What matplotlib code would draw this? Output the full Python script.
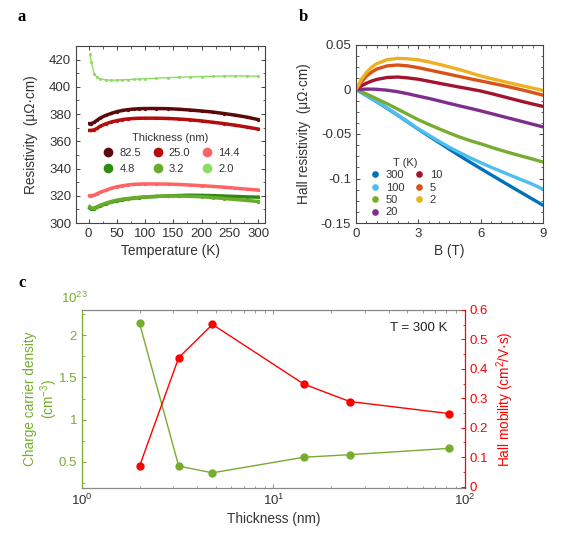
import matplotlib
matplotlib.use("Agg")
import matplotlib.pyplot as plt
from matplotlib.ticker import MultipleLocator, LogLocator, NullFormatter, FixedLocator
from matplotlib.lines import Line2D

plt.rcParams['font.family'] = ['Liberation Sans', 'DejaVu Sans']
plt.rcParams['mathtext.fontset'] = 'custom'
plt.rcParams['mathtext.rm'] = 'Liberation Sans'

# ---------------- Panel a data ----------------
temperature = [2, 5, 10, 15, 20, 30, 40, 50, 60, 70, 80, 90, 100, 120, 140, 160, 180, 200, 220, 240, 260, 280, 300]
rho_82_5 = [373, 373, 374, 375.5, 377, 379, 380.5, 381.8, 382.7, 383.3, 383.7, 384, 384.1, 384.1, 384, 383.6, 383, 382.3, 381.5, 380.4, 379.2, 377.8, 376]
rho_25_0 = [368, 368, 368.5, 369.5, 371, 372.8, 374.2, 375.2, 376, 376.5, 376.8, 377, 377, 377, 376.8, 376.4, 375.8, 375, 374, 373, 371.8, 370.5, 369]
rho_14_4 = [320, 320, 320.5, 321.5, 322.5, 324, 325.5, 326.6, 327.4, 328, 328.4, 328.6, 328.7, 328.7, 328.6, 328.3, 327.9, 327.4, 326.9, 326.3, 325.6, 324.9, 324.2]
rho_4_8 = [311, 310.3, 310.5, 311.5, 312.5, 314, 315.3, 316.3, 317.1, 317.7, 318.2, 318.6, 319, 319.5, 319.9, 320.2, 320.4, 320.3, 320.1, 319.8, 319.5, 319.2, 319]
rho_3_2 = [312, 311, 311, 312, 313, 314.5, 315.8, 316.8, 317.5, 318, 318.5, 318.9, 319.2, 319.6, 319.8, 319.8, 319.6, 319.3, 318.7, 318, 317.3, 316.6, 315.8]
rho_2_0 = [424, 418, 409.5, 407, 405.8, 405.2, 404.9, 405, 405.2, 405.4, 405.6, 405.8, 406, 406.4, 406.8, 407.1, 407.3, 407.6, 407.8, 408, 408, 408, 407.8]
thickness_labels_a = ['82.5', '25.0', '14.4', '4.8', '3.2', '2.0']
colors_a = ['#5a0a0a', '#b30d0d', '#ff6464', '#2e8b12', '#6aab2e', '#8ddc62']

# ---------------- Panel b data ----------------
field = [0, 0.25, 0.5, 0.75, 1, 1.5, 2, 2.5, 3, 3.5, 4, 4.5, 5, 5.5, 6, 6.5, 7, 7.5, 8, 8.5, 9]
hall_300 = [0, -0.0034, -0.0068, -0.0103, -0.0138, -0.0212, -0.0288, -0.0367, -0.0447, -0.0522, -0.0597, -0.0672, -0.0746, -0.0818, -0.0888, -0.0958, -0.1027, -0.1096, -0.1164, -0.1232, -0.130]
hall_100 = [0, -0.0033, -0.0066, -0.0100, -0.0135, -0.0208, -0.0284, -0.0363, -0.0442, -0.0513, -0.0583, -0.0650, -0.0710, -0.0768, -0.0822, -0.0873, -0.0922, -0.0970, -0.1017, -0.1065, -0.112]
hall_50 = [0, -0.0025, -0.005, -0.0078, -0.0105, -0.016, -0.022, -0.028, -0.034, -0.0392, -0.0442, -0.049, -0.0535, -0.0575, -0.061, -0.0648, -0.0684, -0.0718, -0.075, -0.0782, -0.0815]
hall_20 = [0, 0.0002, 0.0004, 0.0004, 0.0002, -0.0008, -0.0025, -0.0048, -0.0075, -0.010, -0.0128, -0.0157, -0.0185, -0.0212, -0.024, -0.027, -0.030, -0.033, -0.036, -0.039, -0.042]
hall_10 = [0, 0.004, 0.007, 0.0095, 0.0113, 0.0135, 0.014, 0.013, 0.0115, 0.0093, 0.007, 0.0048, 0.0026, 0.0005, -0.0017, -0.0045, -0.0075, -0.0105, -0.0135, -0.0163, -0.019]
hall_5 = [0, 0.008, 0.015, 0.0195, 0.023, 0.0265, 0.0275, 0.0265, 0.0245, 0.022, 0.0195, 0.017, 0.0145, 0.012, 0.0096, 0.0072, 0.0048, 0.0022, -0.0005, -0.0034, -0.0064]
hall_2 = [0, 0.011, 0.019, 0.025, 0.029, 0.0335, 0.035, 0.0345, 0.0333, 0.031, 0.0283, 0.0253, 0.0222, 0.0188, 0.0152, 0.0123, 0.0095, 0.0068, 0.0042, 0.0016, -0.001]
temp_labels_b = ['300', '100', '50', '20', '10', '5', '2']
colors_b = ['#0072BD', '#4DBEEE', '#77AC30', '#7E2F8E', '#A2142F', '#D95319', '#EDB120']

# ---------------- Panel c data ----------------
thickness_c = [2.0, 3.2, 4.8, 14.4, 25.0, 82.5]
carrier_density = [2.14, 0.45, 0.37, 0.555, 0.585, 0.66]   # x 1e23 cm^-3
hall_mobility = [0.070, 0.438, 0.551, 0.348, 0.289, 0.248]  # cm^2/V.s

green_c = '#77AC30'
red_c = '#FF0000'
spine_col = '#444444'

fig = plt.figure(figsize=(5.77, 5.33), dpi=100)

tick_fs = 9.5
label_fs = 9.8
leg_fs = 8.0

def style_box(ax):
    for s in ax.spines.values():
        s.set_color(spine_col)
        s.set_linewidth(0.8)
    ax.tick_params(which='both', direction='in', top=True, right=True, colors=spine_col,
                   labelcolor='#333333', labelsize=tick_fs)
    ax.tick_params(which='major', length=3, width=0.7)
    ax.tick_params(which='minor', length=1.8, width=0.6)

# ---------- a ----------
axa = fig.add_axes([0.132, 0.5816, 0.327, 0.332])
series_a = [rho_82_5, rho_25_0, rho_14_4, rho_4_8, rho_3_2, rho_2_0]
for ys, c in zip(series_a, colors_a):
    lw = 1.0 if c == colors_a[5] else 2.5
    axa.plot(temperature, ys, color=c, lw=lw, marker='o', ms=2.4 if lw > 1.5 else 2.2,
             markeredgewidth=0)
axa.set_xlim(-22, 312)
axa.set_ylim(300, 430)
axa.xaxis.set_major_locator(MultipleLocator(50))
axa.xaxis.set_minor_locator(MultipleLocator(25))
axa.yaxis.set_major_locator(MultipleLocator(20))
axa.yaxis.set_minor_locator(MultipleLocator(10))
style_box(axa)
axa.set_xlabel('Temperature (K)', fontsize=label_fs, color='#333333', labelpad=3)
axa.set_ylabel('Resistivity  (μΩ·cm)', fontsize=label_fs, color='#333333', labelpad=8)
order = [0, 3, 1, 4, 2, 5]
handles_a = [Line2D([], [], ls='none', marker='o', ms=7, color=colors_a[i], markeredgewidth=0) for i in order]
leg_a = axa.legend(handles_a, [thickness_labels_a[i] for i in order], ncol=3, loc='center',
                   bbox_to_anchor=(0.5, 0.395), frameon=False, fontsize=leg_fs,
                   title='Thickness (nm)', title_fontsize=leg_fs, handletextpad=0.4,
                   columnspacing=0.9, labelspacing=0.5, handlelength=1.2)
for t in leg_a.get_texts():
    t.set_color('#333333')
leg_a.get_title().set_color('#333333')

# ---------- b ----------
axb = fig.add_axes([0.617, 0.5816, 0.324, 0.334])
series_b = [hall_300, hall_100, hall_50, hall_20, hall_10, hall_5, hall_2]
for ys, c in zip(series_b, colors_b):
    axb.plot(field, ys, color=c, lw=2.4, solid_capstyle='round')
axb.set_xlim(0, 9)
axb.set_ylim(-0.15, 0.05)
axb.xaxis.set_major_locator(MultipleLocator(3))
axb.xaxis.set_minor_locator(MultipleLocator(0.5))
axb.yaxis.set_major_locator(MultipleLocator(0.05))
axb.yaxis.set_minor_locator(MultipleLocator(0.0125))
style_box(axb)
axb.set_yticks([-0.15, -0.1, -0.05, 0, 0.05])
axb.set_yticklabels(['-0.15', '-0.1', '-0.05', '0', '0.05'])
axb.set_xlabel('B (T)', fontsize=label_fs, color='#333333', labelpad=3)
axb.set_ylabel('Hall resistivity  (μΩ·cm)', fontsize=label_fs, color='#333333', labelpad=7)
handles_b = [Line2D([], [], ls='none', marker='o', ms=4.8, color=c, markeredgewidth=0) for c in colors_b]
leg_b = axb.legend(handles_b, temp_labels_b, ncol=2, loc='lower left',
                   bbox_to_anchor=(0.01, -0.025), frameon=False, fontsize=leg_fs,
                   title='T (K)', title_fontsize=leg_fs, handletextpad=0.4,
                   columnspacing=0.7, labelspacing=0.22, handlelength=1.2)
for t in leg_b.get_texts():
    t.set_color('#333333')
leg_b.get_title().set_color('#333333')

# ---------- c ----------
axc = fig.add_axes([0.142, 0.0844, 0.664, 0.334])
axc.plot(thickness_c, carrier_density, color=green_c, lw=1.0, marker='o', ms=6, markeredgewidth=0)
axc.set_xscale('log')
axc.set_xlim(1, 100)
axc.set_ylim(0.19, 2.30)
axc.yaxis.set_major_locator(FixedLocator([0.5, 1, 1.5, 2]))
axc.yaxis.set_minor_locator(MultipleLocator(0.25))
axc.set_yticklabels(['0.5', '1', '1.5', '2'])
axc.xaxis.set_major_locator(LogLocator(base=10))
axc.xaxis.set_minor_locator(LogLocator(base=10, subs=range(2, 10)))
axc.xaxis.set_minor_formatter(NullFormatter())
for s in ['top', 'bottom']:
    axc.spines[s].set_color('#888888')
axc.spines['left'].set_color(green_c)
axc.spines['right'].set_visible(False)
for s in axc.spines.values():
    s.set_linewidth(0.9)
axc.tick_params(axis='x', which='both', direction='in', top=True, colors='#888888',
                labelcolor='#333333', labelsize=tick_fs)
axc.tick_params(axis='y', which='both', direction='in', right=False, colors=green_c,
                labelcolor=green_c, labelsize=tick_fs)
axc.tick_params(which='major', length=3, width=0.7)
axc.tick_params(which='minor', length=1.8, width=0.6)
axc.set_xlabel('Thickness (nm)', fontsize=label_fs, color='#333333', labelpad=3)
axc.set_ylabel('Charge carrier density\n(cm$^{-3}$)', fontsize=label_fs, color=green_c,
               labelpad=-1, linespacing=1.1)
axc.text(-0.02, 1.02, r'10$^{23}$', transform=axc.transAxes, color=green_c,
         fontsize=tick_fs, ha='center', va='bottom')
axc.text(0.955, 0.90, 'T = 300 K', transform=axc.transAxes, fontsize=tick_fs,
         color='#222222', ha='right', va='center')

axr = axc.twinx()
axr.plot(thickness_c, hall_mobility, color=red_c, lw=1.0, marker='o', ms=6, markeredgewidth=0)
axr.set_ylim(-0.005, 0.6)
axr.yaxis.set_major_locator(MultipleLocator(0.1))
axr.yaxis.set_minor_locator(MultipleLocator(0.05))
axr.set_yticks([0, 0.1, 0.2, 0.3, 0.4, 0.5, 0.6])
axr.set_yticklabels(['0', '0.1', '0.2', '0.3', '0.4', '0.5', '0.6'])
for s in ['top', 'bottom', 'left']:
    axr.spines[s].set_visible(False)
axr.spines['right'].set_color(red_c)
axr.spines['right'].set_linewidth(0.9)
axr.tick_params(axis='y', which='both', direction='in', colors=red_c, labelcolor=red_c,
                labelsize=tick_fs)
axr.tick_params(which='major', length=3, width=0.7)
axr.tick_params(which='minor', length=1.8, width=0.6)
axr.set_ylabel('Hall mobility (cm$^2$/V·s)', fontsize=label_fs, color=red_c, labelpad=4)

# panel labels
fig.text(22/577, 1 - 17/533, 'a', fontsize=12, fontweight='bold', family='Liberation Serif',
         ha='center', va='center')
fig.text(303/577, 1 - 17/533, 'b', fontsize=12, fontweight='bold', family='Liberation Serif',
         ha='center', va='center')
fig.text(22/577, 1 - 283/533, 'c', fontsize=12, fontweight='bold', family='Liberation Serif',
         ha='center', va='center')

fig.savefig('out.png', dpi=100)
